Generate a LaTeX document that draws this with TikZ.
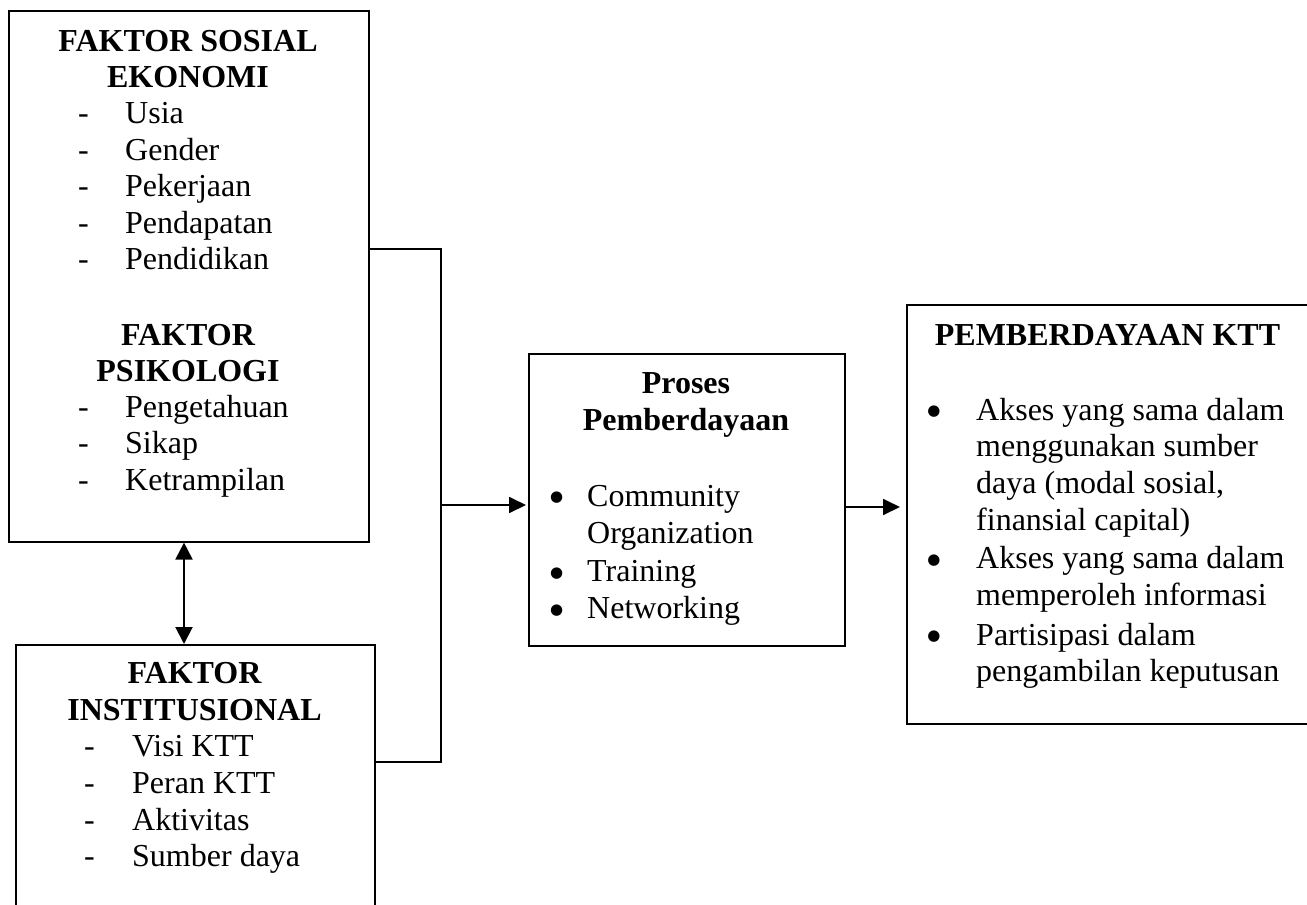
\documentclass[tikz,border=0pt]{standalone}
\usepackage{fontspec}
\setmainfont{Liberation Serif}
\newfontfamily\dvsans{DejaVu Sans}
\usetikzlibrary{arrows.meta}
\begin{document}
\begin{tikzpicture}[x=1pt,y=-1pt,
  box/.style={draw, line width=1.6pt, inner sep=0pt, anchor=north west},
  txt/.style={inner sep=0pt, anchor=base west, font=\fontsize{32}{36.8}\selectfont},
  blt/.style={inner sep=0pt, anchor=center, font=\dvsans\fontsize{15}{15}\selectfont},
  ttl/.style={inner sep=0pt, anchor=base, font=\fontsize{32}{36.8}\selectfont\bfseries},
  conn/.style={line width=1.6pt},
  arr/.style={line width=1.8pt, -{Triangle[length=17pt,width=16pt]}},
  darr/.style={line width=2pt, {Triangle[length=17pt,width=17pt]}-{Triangle[length=17pt,width=17pt]}},
]
\useasboundingbox (0,0) rectangle (1307,905);

% boxes
\node[box, minimum width=360pt, minimum height=531pt] (b1) at (8,10) {};
\node[box, minimum width=359pt, minimum height=300pt] (b2) at (15,644) {};
\node[box, minimum width=316pt, minimum height=292pt] (mid) at (528,353) {};
\node[box, minimum width=420pt, minimum height=419pt] (rt) at (906,304) {};

% box 1 text
\node[ttl] (t1a) at (188,51.7) {FAKTOR SOSIAL};
\node[ttl] (t1b) at (188,87.3) {EKONOMI};
\foreach \yy/\ss [count=\i] in {123.3/Usia,160/Gender,196.6/Pekerjaan,233.2/Pendapatan,269.8/Pendidikan}{
  \node[txt] (se\i d) at (78,\yy) {-};
  \node[txt] (se\i) at (125,\yy) {\ss};
}
\node[ttl] (t1c) at (188,345) {FAKTOR};
\node[ttl] (t1d) at (188,381) {PSIKOLOGI};
\foreach \yy/\ss [count=\i] in {417/Pengetahuan,453.5/Sikap,490/Ketrampilan}{
  \node[txt] (ps\i d) at (78,\yy) {-};
  \node[txt] (ps\i) at (125,\yy) {\ss};
}

% box 2 text
\node[ttl] (t2a) at (194.5,683.3) {FAKTOR};
\node[ttl] (t2b) at (194.5,720) {INSTITUSIONAL};
\foreach \yy/\ss [count=\i] in {756.7/Visi KTT,793.3/Peran KTT,830/Aktivitas,866.7/Sumber daya}{
  \node[txt] (in\i d) at (84,\yy) {-};
  \node[txt] (in\i) at (132,\yy) {\ss};
}

% middle box text
\node[ttl] (tma) at (686,393) {Proses};
\node[ttl] (tmb) at (686,430.5) {Pemberdayaan};
\node[blt] (mb1) at (556.7,497.5) {●};
\node[txt] (m1) at (587,506.7) {Community};
\node[txt] (m1b) at (587,543) {Organization};
\node[blt] (mb2) at (556.7,573.3) {●};
\node[txt] (m2) at (587,581.7) {Training};
\node[blt] (mb3) at (556.7,610.5) {●};
\node[txt] (m3) at (587,618) {Networking};

% right box text
\node[ttl] (tra) at (1107.5,345) {PEMBERDAYAAN KTT};
\node[blt] (rb1) at (934,411.7) {●};
\node[blt] (rb2) at (934,560.5) {●};
\node[blt] (rb3) at (934,636.7) {●};
\foreach \yy/\ss [count=\i] in {420/Akses yang sama dalam,456.7/menggunakan sumber,493/{daya (modal sosial,},530/finansial capital),568/Akses yang sama dalam,605/memperoleh informasi,645/Partisipasi dalam,681.7/pengambilan keputusan}{
  \node[txt] (r\i) at (976,\yy) {\ss};
}

% connectors
\coordinate (j1) at (441,249);
\coordinate (j2) at (441,762);
\coordinate (jm) at (441,505);
\coordinate (jr) at (870,507);
\coordinate (dx) at (184,0);
\draw[conn] (j1 -| b1.east) -- (j1) -- (j2) -- (j2 -| b2.east);
\draw[arr, shorten >=2pt] (jm) -- (jm -| mid.west);
\draw[arr, shorten >=6pt] (jr -| mid.east) -- (jr -| rt.west);
\draw[darr] (b1.south -| dx) -- (b2.north -| dx);
\end{tikzpicture}
\end{document}
